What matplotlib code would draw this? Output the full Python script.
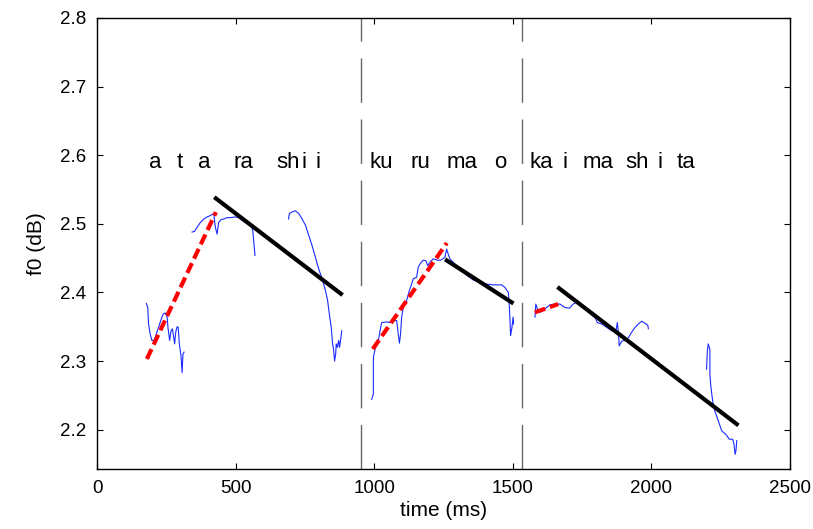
import matplotlib
matplotlib.use("Agg")
import matplotlib.pyplot as plt

plt.rcParams['font.family'] = ['Liberation Sans', 'DejaVu Sans']

# ---- data (time in ms, f0 in log units) ----
f0_1a_t = [178, 183, 186, 192, 198, 207, 216, 226, 234, 240, 247, 253, 256, 262, 267, 272, 277, 280, 284, 289, 293, 297, 303, 307, 310, 314]
f0_1a_v = [2.384, 2.378, 2.354, 2.339, 2.330, 2.330, 2.342, 2.354, 2.364, 2.369, 2.370, 2.364, 2.349, 2.330, 2.344, 2.347, 2.334, 2.325, 2.342, 2.350, 2.349, 2.325, 2.308, 2.283, 2.310, 2.313]

f0_1b_t = [343, 352, 361, 373, 385, 397, 409, 421, 427, 433, 439, 447, 457, 469, 481, 499, 511, 523, 535, 547, 556, 562, 565, 570]
f0_1b_v = [2.488, 2.489, 2.495, 2.502, 2.507, 2.510, 2.512, 2.515, 2.495, 2.485, 2.502, 2.506, 2.507, 2.509, 2.509, 2.510, 2.509, 2.505, 2.502, 2.500, 2.498, 2.490, 2.476, 2.454]

f0_1c_t = [691, 694, 703, 715, 728, 740, 752, 764, 776, 788, 800, 812, 824, 832, 838, 845, 850, 854, 857, 861, 863, 867, 872, 875, 880, 883]
f0_1c_v = [2.507, 2.515, 2.517, 2.519, 2.515, 2.507, 2.498, 2.483, 2.468, 2.451, 2.434, 2.420, 2.403, 2.388, 2.369, 2.349, 2.325, 2.315, 2.300, 2.310, 2.325, 2.320, 2.330, 2.320, 2.334, 2.344]

f0_2_t = [991, 997, 997, 1003, 1015, 1021, 1027, 1045, 1057, 1069, 1081, 1087, 1091, 1095, 1099, 1105, 1117, 1127, 1135, 1141, 1153, 1159, 1168, 1177, 1187, 1193, 1201, 1213, 1228, 1240, 1255, 1261, 1267, 1273, 1285, 1309, 1334, 1358, 1382, 1406, 1430, 1460, 1472, 1484, 1487, 1490, 1492, 1497, 1501, 1503]
f0_2_v = [2.244, 2.252, 2.305, 2.317, 2.330, 2.344, 2.356, 2.357, 2.356, 2.359, 2.359, 2.339, 2.326, 2.339, 2.364, 2.378, 2.388, 2.403, 2.412, 2.420, 2.422, 2.437, 2.443, 2.447, 2.446, 2.439, 2.444, 2.449, 2.447, 2.447, 2.451, 2.463, 2.456, 2.449, 2.444, 2.434, 2.425, 2.418, 2.415, 2.412, 2.411, 2.411, 2.407, 2.400, 2.383, 2.359, 2.337, 2.349, 2.364, 2.354]

f0_3a_t = [1580, 1583, 1589, 1598, 1610, 1622, 1634, 1652, 1670, 1688, 1704, 1718, 1730, 1742, 1761, 1779, 1797, 1805, 1821, 1839, 1857, 1872, 1877, 1881, 1884, 1893, 1905, 1917, 1929, 1941, 1953, 1965, 1977, 1987, 1989]
f0_3a_v = [2.364, 2.383, 2.376, 2.371, 2.374, 2.378, 2.382, 2.383, 2.383, 2.378, 2.377, 2.383, 2.386, 2.383, 2.376, 2.369, 2.363, 2.356, 2.354, 2.349, 2.344, 2.343, 2.356, 2.342, 2.322, 2.329, 2.330, 2.334, 2.342, 2.349, 2.354, 2.358, 2.355, 2.352, 2.347]

f0_3b_t = [2199, 2202, 2205, 2211, 2211, 2215, 2221, 2229, 2241, 2254, 2269, 2281, 2293, 2298, 2302, 2305, 2308]
f0_3b_v = [2.288, 2.315, 2.325, 2.317, 2.281, 2.261, 2.242, 2.227, 2.213, 2.198, 2.193, 2.186, 2.186, 2.179, 2.164, 2.169, 2.184]

# fitted rises (red) and falls (black): [t_start, t_end], [v_start, v_end]
rise_t = [[180, 429], [995, 1262], [1580, 1664]]
rise_v = [[2.303, 2.517], [2.3175, 2.472], [2.371, 2.383]]
fall_t = [[429, 880], [1262, 1496], [1667, 2308]]
fall_v = [[2.537, 2.398], [2.4465, 2.3855], [2.406, 2.208]]

# phrase boundaries
boundaries = [951, 1532]

# syllable labels and their centre times
syllables = ["a", "t", "a", "ra", "sh", "i", "i",
             "ku", "ru", "ma", "o",
             "ka", "i", "ma", "sh", "i", "ta"]
syllable_t = [209, 299, 386, 527, 689, 747, 797,
              1025, 1165, 1317, 1454,
              1602, 1688, 1807, 1948, 2031, 2125]
label_v = 2.582

xticks = [0, 500, 1000, 1500, 2000, 2500]
yticks = [2.2, 2.3, 2.4, 2.5, 2.6, 2.7, 2.8]

fig = plt.figure(figsize=(8.13, 5.29), dpi=100)
ax = fig.add_axes([97/813, 1-469/529, (790-97)/813, (469-18)/529])

blue = '#1a2bff'
for t, v in [(f0_1a_t, f0_1a_v), (f0_1b_t, f0_1b_v), (f0_1c_t, f0_1c_v),
             (f0_2_t, f0_2_v), (f0_3a_t, f0_3a_v), (f0_3b_t, f0_3b_v)]:
    ax.plot(t, v, color=blue, lw=0.8, zorder=2)

for t, v in zip(rise_t, rise_v):
    ax.plot(t, v, color='#ff0000', lw=3.0, linestyle=(0, (2.6, 1.2)), zorder=3,
            solid_capstyle='butt', dash_capstyle='butt')
for t, v in zip(fall_t, fall_v):
    ax.plot(t, v, color='black', lw=3.0, zorder=3)

for b in boundaries:
    ax.axvline(b, color='#666666', lw=1.0, linestyle=(0, (32, 12)), zorder=1)

for s, t in zip(syllables, syllable_t):
    ax.text(t, label_v, s, fontsize=16, ha='center', va='baseline')

ax.set_xlim(0, 2500)
ax.set_ylim(2.1426, 2.8)
ax.set_xticks(xticks)
ax.set_yticks(yticks)
ax.set_yticklabels([f"{y:.1f}" for y in yticks])
ax.tick_params(direction='in', top=True, right=True, length=4, width=0.8,
               labelsize=13.5, pad=8)
for sp in ax.spines.values():
    sp.set_linewidth(1.0)
ax.set_xlabel("time (ms)", fontsize=15, labelpad=3)
ax.set_ylabel("f0 (dB)", fontsize=15, labelpad=10)

fig.savefig("out.png", dpi=100)
